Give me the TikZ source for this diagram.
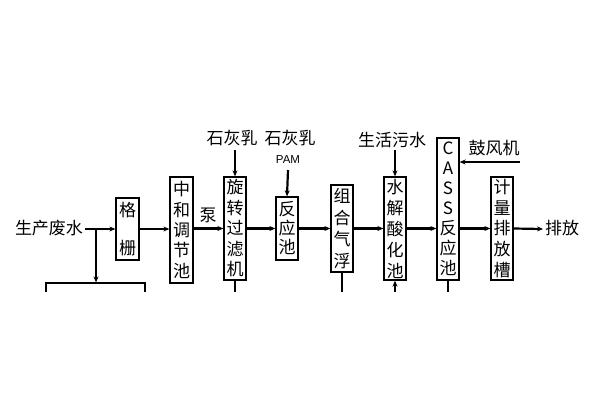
\documentclass[tikz,border=0pt]{standalone}
\usepackage{fontspec}
\newfontfamily\cjk{Noto Sans CJK SC}
\setsansfont{Liberation Sans}
\usetikzlibrary{arrows.meta}
\begin{document}
\begin{tikzpicture}[x=1pt,y=-1pt,
  box/.style={draw,line width=1.3pt,inner sep=0pt,align=center,font=\cjk\fontsize{17}{#1}\selectfont},
  lbl/.style={inner sep=0pt,font=\cjk\fontsize{17}{20}\selectfont},
  flow/.style={line width=2.2pt,-{Stealth[length=6pt,width=5pt]}},
  plain/.style={line width=2.2pt}]
\useasboundingbox (0,0) rectangle (600,400);
\begin{scope}
\clip (0,0) rectangle (600,291);
% boxes
\node[box=38, minimum width=23, minimum height=62] (gs) at (127.5,229) {格\\栅};
\node[box=20.4, minimum width=23, minimum height=106] (zh) at (181.5,230) {中\\和\\调\\节\\池};
\node[box=20.5, minimum width=22, minimum height=103] (xz) at (235,228.5) {旋\\转\\过\\滤\\机};
\node[box=19, minimum width=22, minimum height=63] (fy) at (287,228.5) {反\\应\\池};
\node[box=21.7, minimum width=22, minimum height=87] (zq) at (342,228.5) {组\\合\\气\\浮};
\node[box=21, minimum width=22, minimum height=103] (sj) at (395,228.5) {水\\解\\酸\\化\\池};
\node[box=20, minimum width=22, minimum height=142] (cass) at (448,209) {C\\A\\S\\S\\反\\应\\池};
\node[box=20.7, minimum width=22, minimum height=103] (jl) at (502,228.5) {计\\量\\排\\放\\槽};
\node[draw,line width=1.3pt,minimum width=99,minimum height=28,inner sep=0pt] (acc) at (95.5,297) {};
% labels
\node[lbl] (in) at (49,228) {生产废水};
\node[lbl] (beng) at (208,215) {泵};
\node[lbl] (shh1) at (232,138) {石灰乳};
\node[lbl] (shh2) at (290,138) {石灰乳};
\node[inner sep=0pt,font=\sffamily\fontsize{11.5}{12}\selectfont] (pam) at (288,160) {PAM};
\node[lbl] (shw) at (392,140) {生活污水};
\node[lbl] (gfj) at (494,148) {鼓风机};
\node[lbl] (out) at (562,228) {排放};
% coordinates
\coordinate (inE) at (85,229);
\coordinate (br) at (96,229);
\coordinate (outW) at (543,229);
\coordinate (gfjE) at (520,162);
\coordinate (xzD) at (235,300);
\coordinate (zqD) at (342,300);
\coordinate (sjD) at (395,300);
\coordinate (cassD) at (448,300);
% connectors
\draw[flow] (inE) -- (gs.west);
\draw[flow] (br) -- (acc.north -| br);
\draw[flow] (gs.east) -- (zh.west |- gs.east);
\draw[flow] (zh.east |- xz.east) -- (xz.east -| xz.west);
\draw[flow] (xz.east) -- (fy.west);
\draw[flow] (fy.east) -- (zq.west);
\draw[flow] (zq.east) -- (sj.west);
\draw[flow] (sj.east) -- (cass.west |- sj.east);
\draw[flow] (cass.east |- jl.west) -- (jl.west);
\draw[flow] (jl.east) -- (outW);
\draw[flow] (235,150) -- (xz.north);
\draw[flow] (288,170) -- (fy.north);
\draw[flow] (395,150) -- (sj.north);
\draw[flow] (gfjE) -- (gfjE -| cass.east);
\draw[plain] (xz.south) -- (xzD);
\draw[plain] (zq.south) -- (zqD);
\draw[plain] (cass.south) -- (cassD);
\draw[flow] (sjD) -- (sj.south);
\end{scope}
\end{tikzpicture}
\end{document}
